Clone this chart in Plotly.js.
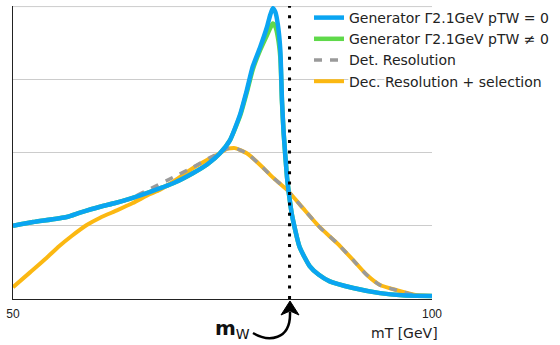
<!DOCTYPE html>
<html>
<head>
<meta charset="utf-8">
<script src="https://cdn.plot.ly/plotly-3.0.1.min.js"></script>
<style>html,body{margin:0;padding:0;background:#fff;}#chart{width:560px;height:345px;}</style>
</head>
<body>
<div id="chart"></div>
<script>
// ---- data ----
var genX = [50, 52.4, 56.4, 58.0, 60.4, 62.2, 64.0, 66.3, 69.1, 71.5, 73.2, 74.7, 75.9, 77.1, 77.9, 78.6, 79.5, 80.3, 80.7, 81.0, 81.3, 81.6, 81.9, 82.1, 82.3, 82.7, 82.9, 83.3, 84.2, 85.4, 86.5, 87.8, 90.6, 93.8, 96.5, 100];
var genPt0 = [1.00, 1.05, 1.12, 1.18, 1.26, 1.31, 1.37, 1.46, 1.58, 1.72, 1.84, 1.99, 2.17, 2.52, 2.85, 3.17, 3.44, 3.71, 3.88, 3.97, 3.92, 3.75, 3.40, 2.71, 2.26, 1.66, 1.46, 1.14, 0.71, 0.45, 0.33, 0.24, 0.15, 0.08, 0.05, 0.04];
var genPtN0 = [1.00, 1.05, 1.12, 1.18, 1.26, 1.31, 1.37, 1.46, 1.58, 1.72, 1.84, 1.99, 2.17, 2.50, 2.82, 3.13, 3.40, 3.60, 3.70, 3.76, 3.72, 3.58, 3.30, 2.68, 2.26, 1.66, 1.46, 1.14, 0.71, 0.45, 0.33, 0.24, 0.15, 0.08, 0.05, 0.04];
var detX = [50, 52.4, 56.4, 58.0, 60.4, 62.2, 64.0, 66.3, 69.1, 71.5, 73.5, 74.7, 75.5, 76.5, 77.9, 79.5, 81.0, 82.7, 84.6, 86.6, 88.7, 90.6, 92.2, 93.8, 95.8, 98.2, 100];
var detRes = [1.00, 1.05, 1.12, 1.18, 1.26, 1.31, 1.37, 1.50, 1.66, 1.80, 1.93, 2.00, 2.05, 2.06, 1.99, 1.83, 1.66, 1.49, 1.24, 0.98, 0.76, 0.53, 0.33, 0.19, 0.12, 0.05, 0.04];
var selX = [50, 52.0, 54.0, 55.5, 57.0, 58.8, 60.4, 62.4, 64.3, 66.3, 67.5, 69.1, 71.1, 73.2, 74.7, 75.5, 76.5, 77.9, 79.5, 81.0, 82.7, 84.6, 86.6, 88.7, 90.6, 92.2, 93.8, 95.8, 98.2, 100];
var detSel = [0.16, 0.36, 0.56, 0.72, 0.86, 1.01, 1.11, 1.21, 1.31, 1.43, 1.49, 1.60, 1.76, 1.90, 1.99, 2.05, 2.06, 1.99, 1.83, 1.66, 1.49, 1.24, 0.98, 0.76, 0.53, 0.33, 0.19, 0.12, 0.05, 0.04];
var seriesNames = ["Generator Γ2.1GeV pTW = 0", "Generator Γ2.1GeV pTW ≠ 0", "Det. Resolution", "Dec. Resolution + selection"];
var xTickVals = [50, 100];
var xTickText = ["50", "100"];
var mW = 83.0;

var BLUE = '#0aa5f2', GREEN = '#5fd94a', GRAY = '#9a9a9a', ORANGE = '#fbb812';

var traces = [
  {x: genX, y: genPtN0, name: seriesNames[1], legendrank: 2, mode: 'lines',
   line: {color: GREEN, width: 4.5, shape: 'spline', smoothing: 0.5}},
  {x: selX, y: detSel, name: seriesNames[3], legendrank: 4, mode: 'lines',
   line: {color: ORANGE, width: 4, shape: 'spline', smoothing: 0.5}},
  {x: detX, y: detRes, name: seriesNames[2], legendrank: 3, mode: 'lines',
   line: {color: GRAY, width: 3.5, dash: '8px,8px', shape: 'spline', smoothing: 0.5}},
  {x: genX, y: genPt0, name: seriesNames[0], legendrank: 1, mode: 'lines',
   line: {color: BLUE, width: 4.5, shape: 'spline', smoothing: 0.5}}
];

function px2paperX(p){ return (p - 13) / 419; }
function px2paperY(p){ return (299 - p) / 293; }
function pathPx(cmds){
  return cmds.map(function(c){
    if (c.length === 1) return c[0];
    var s = c[0];
    for (var i = 1; i < c.length; i += 2) {
      s += (i > 1 ? ' ' : '') + px2paperX(c[i]).toFixed(4) + ',' + px2paperY(c[i+1]).toFixed(4);
    }
    return s;
  }).join(' ');
}

var layout = {
  width: 560, height: 345,
  margin: {l: 13, r: 128, t: 6, b: 46, autoexpand: false},
  paper_bgcolor: '#fff', plot_bgcolor: '#fff',
  font: {family: 'DejaVu Sans', size: 13, color: '#222'},
  xaxis: {range: [50, 100], tickvals: xTickVals, ticktext: xTickText, ticks: '',
          ticklabelstandoff: 4,
          showgrid: false, zeroline: false, showline: true, linecolor: '#222', linewidth: 1,
          tickfont: {family: 'Liberation Sans', size: 12, color: '#222'}},
  yaxis: {range: [0, 4], dtick: 1, showticklabels: false, ticks: '', showgrid: true,
          gridcolor: '#cccccc', gridwidth: 1, zeroline: false, showline: true,
          linecolor: '#222', linewidth: 1},
  showlegend: true,
  legend: {x: px2paperX(309), xanchor: 'left', y: px2paperY(2), yanchor: 'top',
           bgcolor: 'rgba(0,0,0,0)', borderwidth: 0, tracegroupgap: 0,
           font: {family: 'DejaVu Sans', size: 14, color: '#222',
                  shadow: '1px 1px 0 #fff, -1px -1px 0 #fff, 1px -1px 0 #fff, -1px 1px 0 #fff, 2px 0 0 #fff, -2px 0 0 #fff, 0 2px 0 #fff, 0 -2px 0 #fff'}},
  shapes: [
    {type: 'line', xref: 'paper', yref: 'paper', x0: 0, x1: 1, y0: 0.998, y1: 0.998,
     line: {color: '#cccccc', width: 1}, layer: 'below'},
    {type: 'line', xref: 'x', yref: 'paper', x0: mW, x1: mW, y0: 0, y1: 1.0,
     line: {color: '#000', width: 3, dash: '3px,7.4px'}, layer: 'above'},
    {type: 'path', xref: 'paper', yref: 'paper',
     path: pathPx([['M', 253, 333], ['C', 268, 342, 291, 341, 290, 312]]),
     line: {color: '#000', width: 2.5}, fillcolor: 'rgba(0,0,0,0)'},
    {type: 'path', xref: 'paper', yref: 'paper',
     path: pathPx([['M', 290, 301], ['L', 299, 315], ['L', 290, 311], ['L', 281, 315], ['Z']]),
     line: {color: '#000', width: 1}, fillcolor: '#000'}
  ],
  annotations: [
    {xref: 'paper', yref: 'paper', x: px2paperX(232), y: px2paperY(329), xanchor: 'center', yanchor: 'middle',
     text: '<b>m</b><sub>W</sub>', showarrow: false, font: {family: 'DejaVu Sans', size: 20, color: '#111'}},
    {xref: 'paper', yref: 'paper', x: px2paperX(440), y: px2paperY(333), xanchor: 'right', yanchor: 'middle',
     text: 'mT [GeV]', showarrow: false, font: {family: 'DejaVu Sans', size: 14, color: '#222'}}
  ]
};

Plotly.newPlot('chart', traces, layout, {displayModeBar: false, staticPlot: true});
</script>
</body>
</html>
